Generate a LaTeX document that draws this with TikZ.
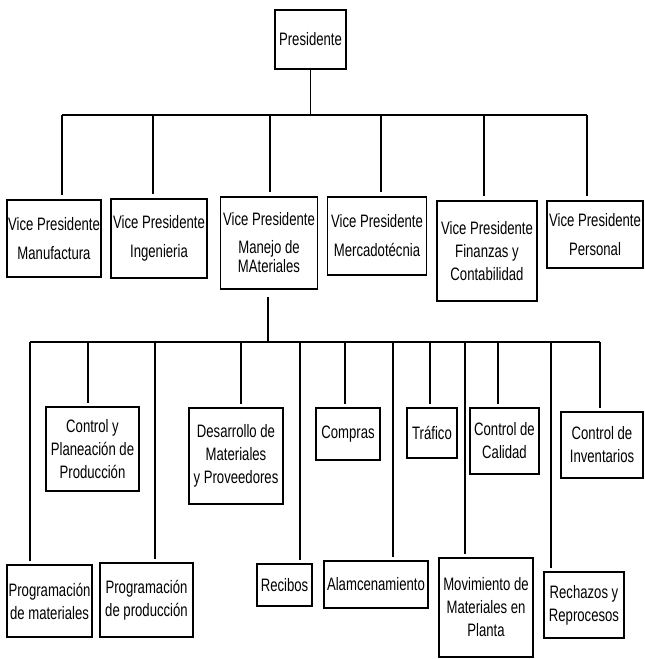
\documentclass[tikz,border=0pt]{standalone}
\usepackage{fontspec}
\setmainfont{Liberation Sans}[FakeStretch=0.73]
\begin{document}
\begin{tikzpicture}[x=1pt,y=-1pt,
  box/.style={draw, line width=1.6pt, inner sep=0pt, align=center,
              font=\fontsize{18}{23}\selectfont},
  vpbox/.style={box, font=\fontsize{18}{29}\selectfont},
  link/.style={line width=1.1pt},
  bar/.style={line width=2pt}]
\useasboundingbox (0,0) rectangle (645,659);

% --- top level
\node[box, minimum width=71pt, minimum height=59pt] (P) at (310.5,39.5) {Presidente};

% --- vice presidents
\node[vpbox, minimum width=94pt,  minimum height=77pt] (v1) at (54,238.5) {Vice Presidente\\Manufactura};
\node[vpbox, minimum width=96pt,  minimum height=79pt] (v2) at (159,238.5) {Vice Presidente\\Ingenieria};
\node[box,   minimum width=97pt,  minimum height=92pt] (v3) at (269,243)
  {Vice Presidente\\[5pt]Manejo de\\[-4pt]MAteriales};
\node[vpbox, minimum width=99pt,  minimum height=78pt] (v4) at (377,236) {Vice Presidente\\Mercadotécnia};
\node[box,   minimum width=100pt, minimum height=100pt] (v5) at (487,251) {Vice Presidente\\Finanzas y\\Contabilidad};
\node[vpbox, minimum width=96pt,  minimum height=67pt] (v6) at (595,234.5) {Vice Presidente\\Personal};

% --- departments, upper row
\node[box, minimum width=93pt, minimum height=84pt] (c1) at (92.5,449) {Control y\\Planeación de\\Producción};
\node[box, minimum width=94pt, minimum height=96pt] (c2) at (236,456) {Desarrollo de\\Materiales\\y Proveedores};
\node[box, minimum width=64pt, minimum height=52pt] (c3) at (348,434) {Compras};
\node[box, minimum width=50pt, minimum height=50pt] (c4) at (432,433) {Tráfico};
\node[box, minimum width=69pt, minimum height=66pt] (c5) at (504.5,441) {Control de\\Calidad};
\node[box, minimum width=82pt, minimum height=66pt] (c6) at (602,445) {Control de\\Inventarios};

% --- departments, lower row
\node[box, minimum width=85pt,  minimum height=72pt] (d1) at (49.5,601) {Programación\\de materiales};
\node[box, minimum width=93pt,  minimum height=74pt] (d2) at (146.5,600) {Programación\\de producción};
\node[box, minimum width=55pt,  minimum height=42pt] (d3) at (284.5,585) {Recibos};
\node[box, minimum width=104pt, minimum height=47pt] (d4) at (376,584.5) {Alamcenamiento};
\node[box, minimum width=94pt,  minimum height=99pt] (d5) at (486,607.5) {Movimiento de\\Materiales en\\Planta};
\node[box, minimum width=80pt,  minimum height=66pt] (d6) at (584,605) {Rechazos y\\Reprocesos};

% --- first branch bar
\coordinate (b1) at (62,115);
\coordinate (b2) at (153,115);
\coordinate (b3) at (270,115);
\coordinate (b4) at (381,115);
\coordinate (b5) at (484,115);
\coordinate (b6) at (587,115);
\draw[link] (P.south) -- (P.south |- b1);
\draw[bar] (b1) -- (b6);
\foreach \a/\n in {b1/v1,b2/v2,b3/v3,b4/v4,b5/v5,b6/v6}
  \draw[link, shorten >=4pt] (\a) -- (\a |- \n.north);

% --- second branch bar
\coordinate (m) at (268,342);
\coordinate (a1) at (30,342);
\coordinate (a2) at (88,342);
\coordinate (a3) at (155,342);
\coordinate (a4) at (241,342);
\coordinate (a5) at (300,342);
\coordinate (a6) at (345,342);
\coordinate (a7) at (393,342);
\coordinate (a8) at (430,342);
\coordinate (a9) at (465,342);
\coordinate (a10) at (498,342);
\coordinate (a11) at (551,342);
\coordinate (a12) at (600,342);
\draw[link, shorten <=7pt] (v3.south -| m) -- (m);
\draw[bar] (a1) -- (a12);
\foreach \a/\n in {a1/d1,a2/c1,a3/d2,a4/c2,a5/d3,a6/c3,a7/d4,a8/c4,a9/d5,a10/c5,a11/d6,a12/c6}
  \draw[link, shorten >=3pt] (\a) -- (\a |- \n.north);
\end{tikzpicture}
\end{document}
